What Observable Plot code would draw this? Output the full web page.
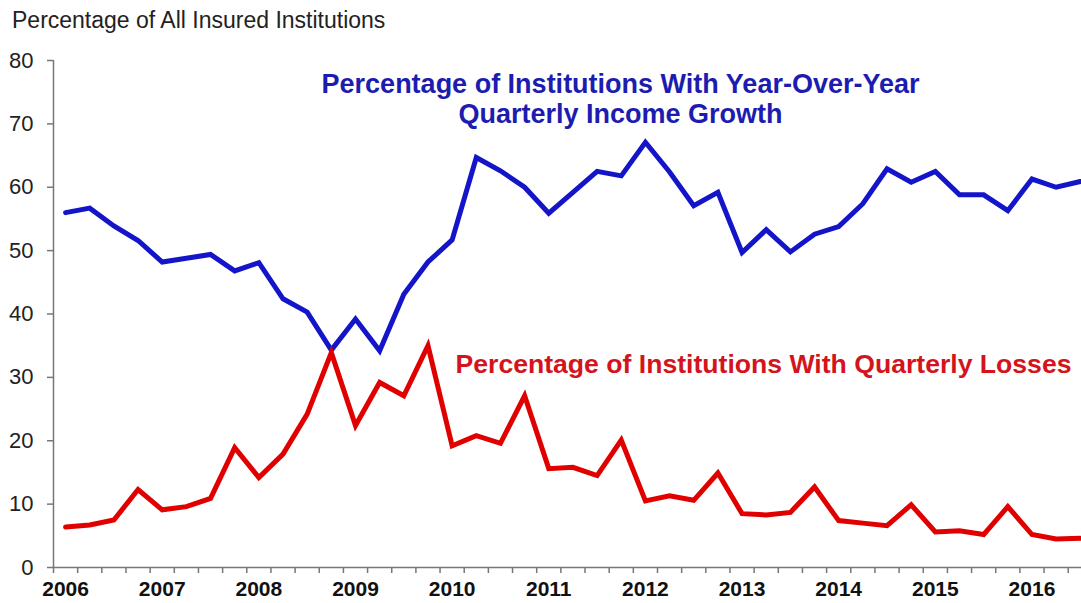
<!DOCTYPE html>
<html>
<head>
<meta charset="utf-8">
<script src="https://cdn.jsdelivr.net/npm/d3@7"></script>
<script src="https://cdn.jsdelivr.net/npm/@observablehq/plot@0.6"></script>
<style>
  html, body { margin: 0; padding: 0; background: #fff; }
  #wrap { position: relative; width: 1081px; height: 603px; overflow: hidden; }
  #subtitle { position: absolute; left: 12px; top: 9px; font-family: "Liberation Sans", Arial, sans-serif; font-size: 23px; line-height: 23px; color: #222; white-space: nowrap; }
  svg { display: block; }
</style>
</head>
<body>
<div id="wrap">
  <div id="subtitle">Percentage of All Insured Institutions</div>
</div>
<script>
// Year labels on the category axis (one per first quarter)
const years = ["2006","2007","2008","2009","2010","2011","2012","2013","2014","2015","2016"];
const quarterNames = ["Q1","Q2","Q3","Q4"];
// Quarters 2006Q1 .. 2016Q3 (43 quarters)
const quarters = years.flatMap(y => quarterNames.map(q => y + q)).slice(0, 43);

// Percentage of institutions with year-over-year quarterly income growth
const incomeGrowth = [
  56.0, 56.7, 53.9, 51.6, 48.2, 48.8, 49.4, 46.8, 48.1, 42.4,
  40.3, 34.3, 39.2, 34.2, 43.1, 48.2, 51.7, 64.7, 62.6, 60.0,
  55.9, 59.2, 62.5, 61.8, 67.1, 62.4, 57.1, 59.2, 49.7, 53.3,
  49.8, 52.6, 53.8, 57.4, 62.9, 60.8, 62.5, 58.8, 58.8, 56.3,
  61.3, 60.0, 60.9
];
// Percentage of institutions with quarterly losses
const quarterlyLosses = [
   6.4,  6.7,  7.5, 12.3,  9.1,  9.6, 10.9, 18.9, 14.2, 17.9,
  24.2, 33.9, 22.4, 29.2, 27.1, 35.0, 19.2, 20.8, 19.6, 27.1,
  15.6, 15.8, 14.5, 20.1, 10.5, 11.3, 10.6, 14.9,  8.5,  8.3,
   8.7, 12.7,  7.4,  7.0,  6.6,  9.9,  5.6,  5.8,  5.2,  9.6,
   5.2,  4.5,  4.6
];
const yTicks = [0, 10, 20, 30, 40, 50, 60, 70, 80];
const seriesNames = ["growth", "losses"];
const seriesColors = ["#1414c8", "#e00000"];

const rows = [
  ...incomeGrowth.map((v, i) => ({i, quarter: quarters[i], v, series: "growth"})),
  ...quarterlyLosses.map((v, i) => ({i, quarter: quarters[i], v, series: "losses"}))
];
const quarterIdx = quarters.map((q, i) => i);
const boundaries = quarterIdx.map(i => i - 0.5);
const yearIdx = years.map((y, k) => k * 4);

const chart = Plot.plot({
  width: 1081,
  height: 603,
  marginLeft: 53,
  marginRight: 0,
  marginTop: 60,
  marginBottom: 36,
  style: {fontFamily: "'Liberation Sans', Arial, sans-serif", background: "#fff", overflow: "visible"},
  x: {type: "linear", domain: [-0.5, 42.05]},
  y: {domain: [0, 80]},
  color: {domain: seriesNames, range: seriesColors},
  marks: [
    Plot.axisY({ticks: yTicks, tickSize: 6, tickPadding: 14, fontSize: 22, fill: "#222", stroke: "#777", strokeWidth: 1.5, label: null}),
    Plot.axisX({ticks: boundaries, tickSize: 6, tickFormat: () => "", stroke: "#777", strokeWidth: 1.5, label: null}),
    Plot.axisX({ticks: yearIdx, tickSize: 0, tickPadding: 14, tickFormat: i => years[i / 4], fontSize: 21, fontWeight: "bold", fill: "#111", label: null}),
    Plot.ruleX([-0.5], {stroke: "#777", strokeWidth: 1.5}),
    Plot.ruleY([0], {stroke: "#777", strokeWidth: 1.5}),
    Plot.line(rows, {x: "i", y: "v", z: "series", stroke: "series", strokeWidth: 5, strokeLinejoin: "miter", strokeMiterlimit: 3}),
    Plot.text(["Percentage of Institutions With Year-Over-Year"], {x: 22.97, y: 74.95, text: d => d, textAnchor: "middle", lineAnchor: "bottom", fontSize: 27, fontWeight: "bold", fill: "#1c1cb0"}),
    Plot.text(["Quarterly Income Growth"], {x: 22.97, y: 70.2, text: d => d, textAnchor: "middle", lineAnchor: "bottom", fontSize: 27, fontWeight: "bold", fill: "#1c1cb0"}),
    Plot.text(["Percentage of Institutions With Quarterly Losses"], {x: 16.14, y: 30.74, text: d => d, textAnchor: "start", lineAnchor: "bottom", fontSize: 26.6, fontWeight: "bold", fill: "#d4141c"})
  ]
});
document.getElementById("wrap").appendChild(chart);
</script>
</body>
</html>
